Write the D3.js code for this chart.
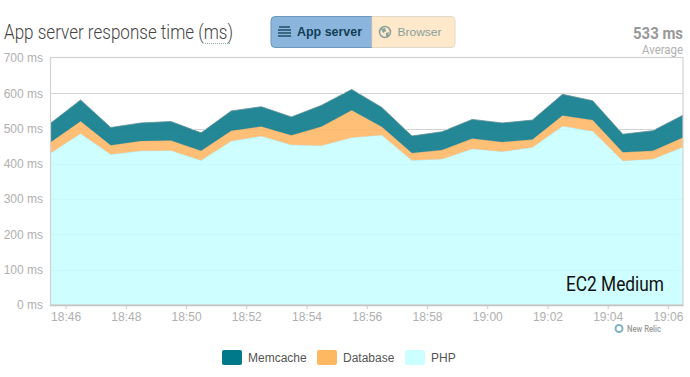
<!DOCTYPE html>
<html>
<head>
<meta charset="utf-8">
<script src="https://cdn.jsdelivr.net/npm/d3@7"></script>
<style>
	html, body { margin: 0; padding: 0; background: #fff; }
	svg { display: block; font-family: "Liberation Sans", sans-serif; }
	.axis path { display: none; }
	.axis text { fill: #b0b0b0; font-size: 12px; font-family: "Liberation Sans", sans-serif; }
	.axis line { stroke: #ccc; }
</style>
</head>
<body>
<svg id="chart" width="690" height="377"></svg>
<script>
// values, in ms
var times = ["18:45:30","18:46:30","18:47:30","18:48:30","18:49:30","18:50:30","18:51:30","18:52:30",
	"18:53:30","18:54:30","18:55:30","18:56:30","18:57:30","18:58:30","18:59:30","19:00:30",
	"19:01:30","19:02:30","19:03:30","19:04:30","19:05:30","19:06:30"];
var php = [431,486,427,437,438,410,465,479,454,452,475,482,410,414,443,435,447,507,493,409,414,448];
var database = [30,35,26,28,28,27,29,27,27,54,77,23,21,25,29,27,22,30,31,24,23,27];
var memcache = [54,60,50,51,54,51,56,56,52,60,59,55,48,52,54,54,55,60,55,51,57,63];
var xTickLabels = ["18:46","18:48","18:50","18:52","18:54","18:56","18:58","19:00","19:02","19:04","19:06"];
var yTicks = [0,100,200,300,400,500,600,700];
var seriesNames = ["PHP","Database","Memcache"];
var legendNames = ["Memcache","Database","PHP"];

var areaColors = {PHP:"#cefeff", Database:"#ffbf76", Memcache:"#238796"};
var swatchColors = {Memcache:"#007a8a", Database:"#ffb862", PHP:"#ccffff"};
var edgeColors = {PHP:"#b9d9d6", Database:"#d9a566", Memcache:"#5f8f96"};

var plot = {left:50.5, right:683, top:58, bottom:305};
var svg = d3.select("#chart");
var parseSec = d3.timeParse("%H:%M:%S");

var rows = times.map(function(t,i){
	return {time:parseSec(t), PHP:php[i], Database:database[i], Memcache:memcache[i]};
});

var x = d3.scaleTime()
	.domain(d3.extent(rows,function(d){ return d.time; }))
	.range([plot.left,plot.right]);
var y = d3.scaleLinear().domain([0,700]).range([plot.bottom,plot.top]);

function fitText(x0,y0,width,size,weight,color,str){
	// condensed look, no narrow face is installed
	return svg.append("text").attr("x",x0).attr("y",y0)
		.attr("textLength",width).attr("lengthAdjust","spacingAndGlyphs")
		.style("font-family","Roboto").style("font-size",size+"px").style("font-weight",weight)
		.style("fill",color).text(str);
}

// title row
fitText(4,39,229,19.5,300,"#444","App server response time (ms)");
svg.append("line").attr("x1",205).attr("x2",231).attr("y1",43.5).attr("y2",43.5)
	.attr("stroke","#8aa").attr("stroke-dasharray","1 1");

// toggle
svg.append("path")
	.attr("d","M275,16.5 H372 V47.5 H275 a4,4 0 0 1 -4,-4 V20.5 a4,4 0 0 1 4,-4 Z")
	.attr("fill","#8bb5dc").attr("stroke","#6c98bd");
svg.append("path")
	.attr("d","M372,16.5 H451 a4,4 0 0 1 4,4 V43.5 a4,4 0 0 1 -4,4 H372 Z")
	.attr("fill","#ffe9ca").attr("stroke","#e0dac9");
[27,30,33,36].forEach(function(iy,i){
	svg.append("line").attr("x1",278+(i==0?1:0)).attr("x2",291-(i==0?1:0)).attr("y1",iy).attr("y2",iy)
		.attr("stroke","#1d4f66").attr("stroke-width",1.5);
});
svg.append("text").attr("x",297).attr("y",36)
	.attr("textLength",65).attr("lengthAdjust","spacingAndGlyphs")
	.style("font-size","12px").style("font-weight","bold")
	.style("fill","#123f57").text("App server");
svg.append("circle").attr("cx",385).attr("cy",32).attr("r",5.5)
	.attr("fill","#ffe9ca").attr("stroke","#86a09b").attr("stroke-width",1.5);
svg.append("path").attr("d","M381,29 L385,28 L386,31 L383,33 Z M386,33 L389,32 L388,36 L386,36 Z").attr("fill","#86a09b");
svg.append("text").attr("x",397.5).attr("y",36)
	.attr("textLength",44).attr("lengthAdjust","spacingAndGlyphs")
	.style("font-size","11.5px")
	.style("fill","#86a09b").text("Browser");

// average
fitText(633,39,50,17,700,"#999","533 ms");
fitText(642,54,41,13,400,"#b0b0b0","Average");

// plot background
svg.append("rect").attr("x",plot.left).attr("y",plot.top)
	.attr("width",plot.right-plot.left).attr("height",plot.bottom-plot.top)
	.attr("fill","#fff");

// stacked areas
var stack = d3.stack().keys(seriesNames);
var stacked = stack(rows);
var area = d3.area()
	.x(function(d){ return x(d.data.time); })
	.y0(function(d){ return y(d[0]); })
	.y1(function(d){ return y(d[1]); });
var topLine = d3.line()
	.x(function(d){ return x(d.data.time); })
	.y(function(d){ return y(d[1]); });

var layers = svg.append("g").selectAll("g").data(stacked).enter().append("g");
layers.append("path")
	.attr("d",area)
	.attr("fill",function(d){ return areaColors[d.key]; });
layers.append("path")
	.attr("d",topLine)
	.attr("fill","none")
	.attr("stroke",function(d){ return edgeColors[d.key]; })
	.attr("stroke-width",0.8);

// grid lines: solid above the stack, very faint through it
var aboveTop = d3.area()
	.x(function(d){ return x(d.data.time); })
	.y0(y(700)).y1(function(d){ return y(d[1]); });
svg.append("clipPath").attr("id","aboveTop").append("path").attr("d",aboveTop(stacked[2]));
var grid = svg.append("g");
yTicks.slice(1,-1).forEach(function(v){
	var gy = Math.round(y(v))+0.5;
	grid.append("line").attr("x1",plot.left).attr("x2",plot.right).attr("y1",gy).attr("y2",gy)
		.attr("stroke","#000").attr("stroke-opacity",0.025);
	grid.append("line").attr("clip-path","url(#aboveTop)")
		.attr("x1",plot.left).attr("x2",plot.right).attr("y1",gy).attr("y2",gy)
		.attr("stroke","#d4d4d4");
});

// frame on top of the areas
svg.append("rect").attr("x",plot.left).attr("y",plot.top-0.5)
	.attr("width",plot.right-plot.left).attr("height",plot.bottom-plot.top+0.5)
	.attr("fill","none").attr("stroke","#d2d2d2").attr("stroke-width",1.2);
svg.append("line").attr("x1",plot.left-0.5).attr("x2",plot.right+0.5).attr("y1",plot.bottom+0.5).attr("y2",plot.bottom+0.5)
	.attr("stroke","#c4c4c4").attr("stroke-width",1.5);

// axes
var yAxis = d3.axisLeft(y).tickValues(yTicks).tickSize(0).tickPadding(7.5)
	.tickFormat(function(d){ return d + " ms"; });
svg.append("g").attr("class","axis")
	.attr("transform","translate("+plot.left+",0)").call(yAxis);

var xAxis = d3.axisBottom(x).tickValues(xTickLabels.map(function(t){ return parseSec(t+":00"); }))
	.tickSize(3).tickPadding(3)
	.tickFormat(d3.timeFormat("%H:%M"));
svg.append("g").attr("class","axis")
	.attr("transform","translate(0,"+(plot.bottom+1)+")").call(xAxis);

// annotation
fitText(566,291,98,21,400,"#111","EC2 Medium");

// new relic mark
svg.append("circle").attr("cx",619).attr("cy",328.5).attr("r",3.5)
	.attr("fill","#fff").attr("stroke","#7fb4c2").attr("stroke-width",2);
fitText(627,332,34,9.5,500,"#999","New Relic");

// legend
var legendX = {Memcache:222, Database:317, PHP:405};
var legend = svg.append("g").selectAll("g").data(legendNames).enter().append("g")
	.attr("transform",function(d){ return "translate("+legendX[d]+",350)"; });
legend.append("rect").attr("width",20).attr("height",15).attr("rx",2)
	.attr("fill",function(d){ return swatchColors[d]; });
legend.append("text").attr("x",26).attr("y",12)
	.style("font-size","12px").style("fill","#555")
	.text(function(d){ return d; });
</script>
</body>
</html>
